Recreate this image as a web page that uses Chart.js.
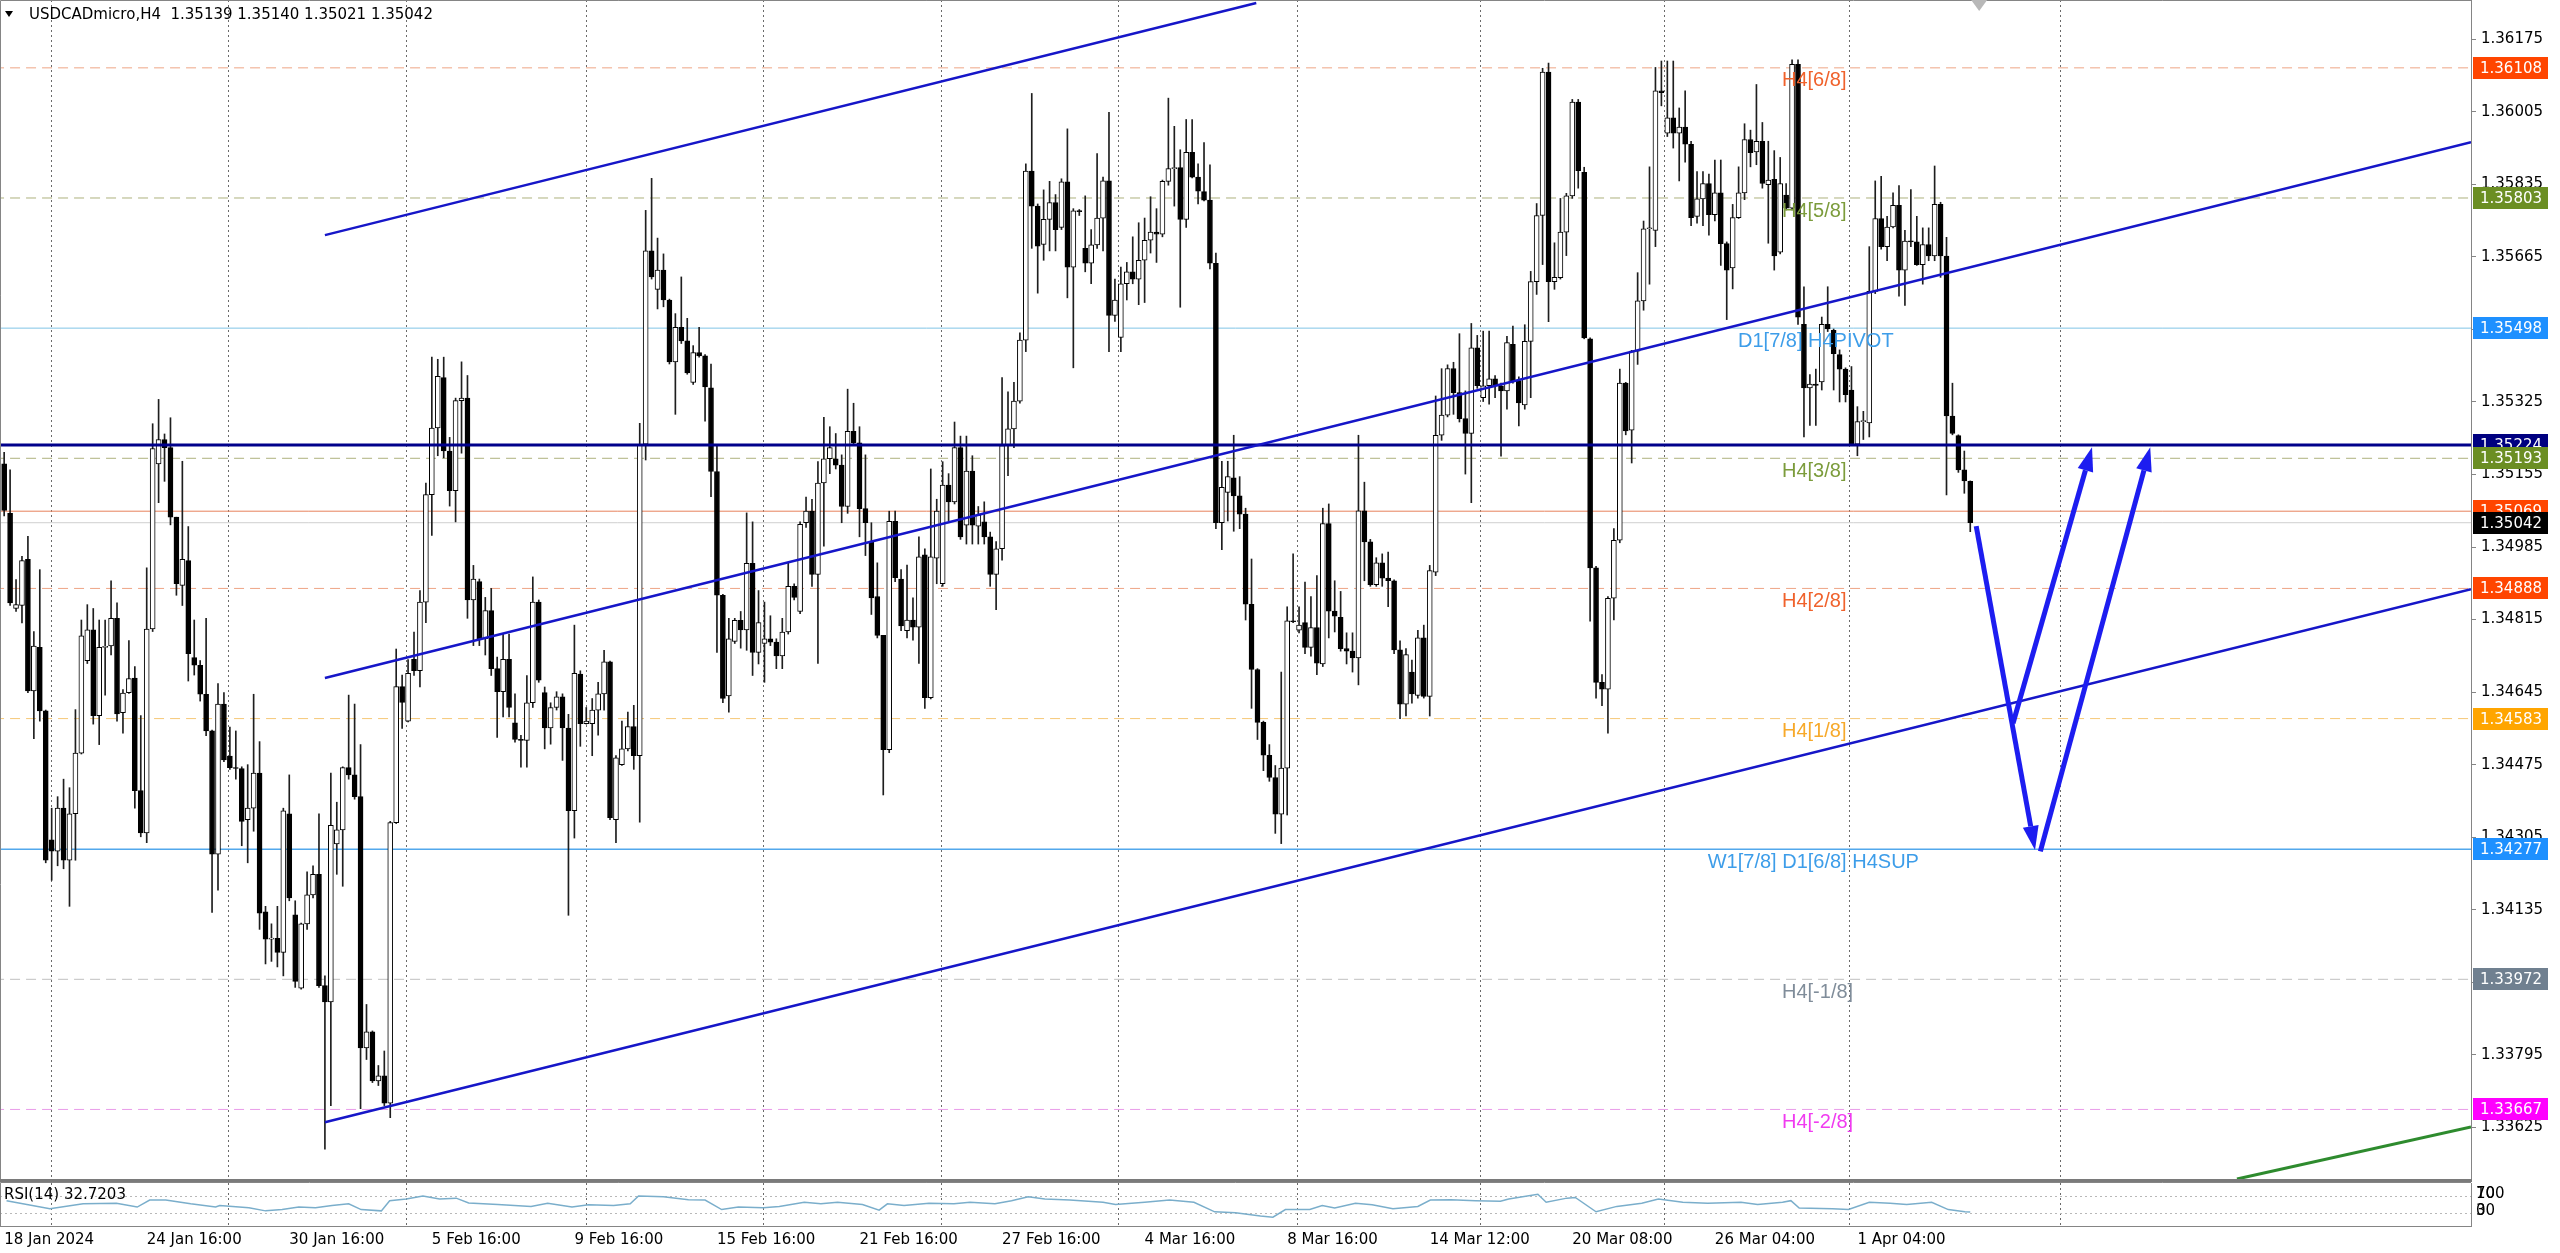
<!DOCTYPE html>
<html>
<head>
<meta charset="utf-8">
<title>USDCADmicro H4</title>
<script src="https://cdn.jsdelivr.net/npm/chart.js@4.4.1/dist/chart.umd.min.js"></script>
<style>
  html, body { margin: 0; padding: 0; background: #ffffff; overflow: hidden; }
  #wrap { position: relative; width: 2560px; height: 1253px; }
  #main { position: absolute; left: 0; top: 0; width: 2560px; height: 1179px; }
  #rsi { position: absolute; left: 0; top: 1179px; width: 2560px; height: 74px; }
</style>
</head>
<body>
<div id="wrap">
  <canvas id="main" width="2560" height="1179"></canvas>
  <canvas id="rsi" width="2560" height="74"></canvas>
</div>
<script>
// H4 candles, oldest first
const opens = [
  1.35180, 1.35064, 1.34841, 1.34848, 1.34956, 1.34648, 1.34750, 1.34601, 1.34299, 1.34272,
  1.34373, 1.34251, 1.34360, 1.34502, 1.34719, 1.34791, 1.34590, 1.34750, 1.34753, 1.34818,
  1.34597, 1.34644, 1.34678, 1.34414, 1.34315, 1.34793, 1.35180, 1.35237, 1.35218, 1.35055,
  1.34895, 1.34953, 1.34726, 1.34708, 1.34640, 1.34554, 1.34265, 1.34617, 1.34495, 1.34468,
  1.34466, 1.34346, 1.34373, 1.34455, 1.34130, 1.34066, 1.34068, 1.34035, 1.34360, 1.34123,
  1.33951, 1.34102, 1.34170, 1.34218, 1.33957, 1.33919, 1.34289, 1.34322, 1.34468, 1.34451,
  1.34400, 1.33811, 1.33849, 1.33734, 1.33746, 1.33682, 1.34339, 1.34658, 1.34577, 1.34722,
  1.34695, 1.34856, 1.35108, 1.35264, 1.35382, 1.35210, 1.35117, 1.35328, 1.35334, 1.34861,
  1.34904, 1.34770, 1.34836, 1.34700, 1.34646, 1.34722, 1.34573, 1.34534, 1.34532, 1.34620,
  1.34856, 1.34644, 1.34561, 1.34609, 1.34634, 1.34561, 1.34367, 1.34687, 1.34571, 1.34571,
  1.34603, 1.34641, 1.34716, 1.34346, 1.34475, 1.34512, 1.34564, 1.34496, 1.35226, 1.35679,
  1.35589, 1.35634, 1.35564, 1.35419, 1.35500, 1.35468, 1.35371, 1.35441, 1.35433, 1.35358,
  1.35162, 1.34872, 1.34636, 1.34764, 1.34813, 1.34791, 1.34947, 1.34738, 1.34759, 1.34770,
  1.34762, 1.34730, 1.34786, 1.34893, 1.34834, 1.35042, 1.35069, 1.34921, 1.35135, 1.35192,
  1.35192, 1.35177, 1.35080, 1.35256, 1.35229, 1.35075, 1.34998, 1.34869, 1.34778, 1.34510,
  1.35045, 1.34910, 1.34789, 1.34814, 1.34797, 1.34967, 1.34632, 1.34959, 1.34899, 1.35130,
  1.35091, 1.35218, 1.35036, 1.35163, 1.35034, 1.35044, 1.35009, 1.34921, 1.34981, 1.35223,
  1.35262, 1.35327, 1.35470, 1.35866, 1.35784, 1.35694, 1.35753, 1.35792, 1.35734, 1.35841,
  1.35641, 1.35773, 1.35685, 1.35650, 1.35693, 1.35756, 1.35843, 1.35528, 1.35476, 1.35602,
  1.35630, 1.35613, 1.35657, 1.35704, 1.35723, 1.35718, 1.35842, 1.35872, 1.35874, 1.35753,
  1.35910, 1.35852, 1.35818, 1.35798, 1.35650, 1.35042, 1.35113, 1.35147, 1.35105, 1.35062,
  1.34851, 1.34698, 1.34574, 1.34497, 1.34445, 1.34359, 1.34467, 1.34812, 1.34790, 1.34808,
  1.34750, 1.34796, 1.34711, 1.35040, 1.34835, 1.34820, 1.34747, 1.34741, 1.34725, 1.35070,
  1.34997, 1.34897, 1.34948, 1.34912, 1.34906, 1.34744, 1.34617, 1.34692, 1.34637, 1.34772,
  1.34635, 1.34926, 1.35247, 1.35294, 1.35403, 1.35347, 1.35286, 1.35251, 1.35452, 1.35335,
  1.35363, 1.35379, 1.35363, 1.35351, 1.35460, 1.35375, 1.35318, 1.35467, 1.35607, 1.35762,
  1.36098, 1.35607, 1.35616, 1.35723, 1.35808, 1.36028, 1.35863, 1.35473, 1.34936, 1.34668,
  1.34652, 1.34865, 1.35001, 1.35369, 1.35259, 1.35444, 1.35562, 1.35731, 1.35727, 1.36054,
  1.35955, 1.35991, 1.35955, 1.35969, 1.35929, 1.35760, 1.35801, 1.35837, 1.35764, 1.35815,
  1.35696, 1.35639, 1.35757, 1.35815, 1.35940, 1.35911, 1.35936, 1.35834, 1.35847, 1.35676,
  1.35810, 1.35779, 1.36116, 1.35507, 1.35358, 1.35367, 1.35372, 1.35507, 1.35493, 1.35436,
  1.35402, 1.35353, 1.35226, 1.35279, 1.35276, 1.35584, 1.35755, 1.35689, 1.35735, 1.35786,
  1.35634, 1.35702, 1.35700, 1.35647, 1.35694, 1.35667, 1.35788, 1.35667, 1.35292, 1.35246,
  1.35166, 1.35139
];
const highs = [
  1.35207, 1.35166, 1.34909, 1.34963, 1.35010, 1.34787, 1.34932, 1.34603, 1.34373, 1.34400,
  1.34441, 1.34421, 1.34604, 1.34814, 1.34850, 1.34841, 1.34814, 1.34814, 1.34906, 1.34854,
  1.34651, 1.34766, 1.34705, 1.34590, 1.34936, 1.35274, 1.35331, 1.35250, 1.35288, 1.35055,
  1.35186, 1.35033, 1.34814, 1.34719, 1.34818, 1.34556, 1.34665, 1.34644, 1.34563, 1.34554,
  1.34470, 1.34475, 1.34640, 1.34529, 1.34143, 1.34102, 1.34143, 1.34373, 1.34451, 1.34156,
  1.34104, 1.34224, 1.34238, 1.34360, 1.33980, 1.34455, 1.34387, 1.34470, 1.34638, 1.34617,
  1.34522, 1.33913, 1.33851, 1.33770, 1.33804, 1.34342, 1.34746, 1.34685, 1.34721, 1.34786,
  1.34883, 1.35135, 1.35430, 1.35425, 1.35430, 1.35242, 1.35334, 1.35419, 1.35387, 1.34942,
  1.34910, 1.34867, 1.34888, 1.34727, 1.34781, 1.34781, 1.34641, 1.34544, 1.34684, 1.34915,
  1.34861, 1.34657, 1.34620, 1.34646, 1.34641, 1.34593, 1.34802, 1.34695, 1.34609, 1.34630,
  1.34668, 1.34743, 1.34718, 1.34496, 1.34577, 1.34598, 1.34614, 1.35275, 1.35774, 1.35849,
  1.35709, 1.35672, 1.35566, 1.35532, 1.35618, 1.35521, 1.35457, 1.35500, 1.35436, 1.35414,
  1.35226, 1.34874, 1.34818, 1.34818, 1.34834, 1.35065, 1.35044, 1.34883, 1.34856, 1.34824,
  1.34770, 1.34818, 1.34947, 1.34899, 1.35044, 1.35102, 1.35097, 1.35185, 1.35289, 1.35267,
  1.35251, 1.35201, 1.35355, 1.35322, 1.35267, 1.35201, 1.35042, 1.34948, 1.34778, 1.35069,
  1.35069, 1.34932, 1.34943, 1.34866, 1.35009, 1.34981, 1.35168, 1.35097, 1.35185, 1.35157,
  1.35278, 1.35245, 1.35245, 1.35199, 1.35080, 1.35091, 1.35020, 1.34998, 1.35382, 1.35349,
  1.35371, 1.35487, 1.35883, 1.36048, 1.35789, 1.35822, 1.35842, 1.35811, 1.35848, 1.35965,
  1.35778, 1.35776, 1.35808, 1.35729, 1.35907, 1.35852, 1.36004, 1.35613, 1.35641, 1.35652,
  1.35712, 1.35745, 1.35756, 1.35806, 1.35778, 1.35845, 1.36037, 1.35971, 1.35916, 1.35987,
  1.35987, 1.35883, 1.35933, 1.35881, 1.35674, 1.35186, 1.35186, 1.35247, 1.35150, 1.35076,
  1.34957, 1.34700, 1.34577, 1.34522, 1.34473, 1.34692, 1.34845, 1.34969, 1.34845, 1.34903,
  1.34869, 1.34918, 1.35076, 1.35086, 1.34906, 1.34881, 1.34784, 1.34784, 1.35247, 1.35137,
  1.35003, 1.34960, 1.34969, 1.34973, 1.34908, 1.34765, 1.34747, 1.34720, 1.34790, 1.34802,
  1.34942, 1.35339, 1.35403, 1.35412, 1.35418, 1.35485, 1.35351, 1.35509, 1.35481, 1.35491,
  1.35491, 1.35387, 1.35369, 1.35479, 1.35503, 1.35384, 1.35506, 1.35631, 1.35790, 1.36107,
  1.36119, 1.35698, 1.35802, 1.35814, 1.36034, 1.36034, 1.35875, 1.35475, 1.34940, 1.34686,
  1.34869, 1.35028, 1.35402, 1.35371, 1.35446, 1.35628, 1.35749, 1.35876, 1.36109, 1.36124,
  1.36124, 1.36124, 1.36014, 1.36054, 1.35936, 1.35865, 1.35865, 1.35859, 1.35892, 1.35892,
  1.35700, 1.35788, 1.35876, 1.35977, 1.35962, 1.36069, 1.35980, 1.35936, 1.35914, 1.35898,
  1.35837, 1.36127, 1.36127, 1.35595, 1.35389, 1.35402, 1.35524, 1.35595, 1.35496, 1.35447,
  1.35405, 1.35408, 1.35314, 1.35303, 1.35689, 1.35843, 1.35854, 1.35760, 1.35815, 1.35832,
  1.35727, 1.35823, 1.35760, 1.35733, 1.35733, 1.35878, 1.35793, 1.35711, 1.35369, 1.35248,
  1.35210, 1.35140
];
const lows = [
  1.35058, 1.34848, 1.34834, 1.34807, 1.34644, 1.34536, 1.34577, 1.34245, 1.34204, 1.34238,
  1.34231, 1.34143, 1.34251, 1.34500, 1.34712, 1.34570, 1.34522, 1.34638, 1.34732, 1.34577,
  1.34549, 1.34642, 1.34373, 1.34306, 1.34292, 1.34787, 1.35089, 1.35139, 1.35037, 1.34872,
  1.34848, 1.34671, 1.34685, 1.34624, 1.34543, 1.34129, 1.34181, 1.34482, 1.34464, 1.34441,
  1.34285, 1.34245, 1.34319, 1.34089, 1.34008, 1.34014, 1.34001, 1.33980, 1.34156, 1.33953,
  1.33949, 1.34089, 1.34163, 1.33953, 1.33574, 1.33676, 1.34218, 1.34190, 1.34441, 1.34394,
  1.33669, 1.33784, 1.33730, 1.33723, 1.33676, 1.33648, 1.34337, 1.34560, 1.34575, 1.34684,
  1.34657, 1.34808, 1.35012, 1.35199, 1.35194, 1.35081, 1.35044, 1.35205, 1.34818, 1.34754,
  1.34754, 1.34732, 1.34684, 1.34539, 1.34587, 1.34587, 1.34528, 1.34469, 1.34469, 1.34609,
  1.34668, 1.34512, 1.34523, 1.34603, 1.34485, 1.34122, 1.34303, 1.34518, 1.34570, 1.34496,
  1.34544, 1.34603, 1.34346, 1.34292, 1.34473, 1.34507, 1.34464, 1.34340, 1.35189, 1.35613,
  1.35543, 1.35548, 1.35414, 1.35296, 1.35462, 1.35390, 1.35366, 1.35430, 1.35280, 1.35103,
  1.34738, 1.34620, 1.34598, 1.34759, 1.34748, 1.34743, 1.34684, 1.34711, 1.34668, 1.34754,
  1.34700, 1.34700, 1.34781, 1.34861, 1.34829, 1.35031, 1.34893, 1.34712, 1.34987, 1.35157,
  1.35168, 1.35042, 1.35064, 1.35223, 1.35009, 1.34965, 1.34827, 1.34772, 1.34404, 1.34503,
  1.34904, 1.34789, 1.34772, 1.34767, 1.34712, 1.34607, 1.34629, 1.34899, 1.34893, 1.35047,
  1.35086, 1.35003, 1.34992, 1.34992, 1.34992, 1.34992, 1.34893, 1.34838, 1.34954, 1.35152,
  1.35218, 1.35322, 1.35443, 1.35685, 1.35580, 1.35657, 1.35679, 1.35679, 1.35729, 1.35569,
  1.35405, 1.35762, 1.35630, 1.35602, 1.35685, 1.35679, 1.35443, 1.35514, 1.35443, 1.35564,
  1.35602, 1.35553, 1.35558, 1.35674, 1.35652, 1.35712, 1.35833, 1.35784, 1.35547, 1.35734,
  1.35850, 1.35789, 1.35796, 1.35637, 1.35028, 1.34979, 1.35046, 1.35022, 1.35028, 1.34814,
  1.34607, 1.34534, 1.34461, 1.34436, 1.34314, 1.34290, 1.34357, 1.34808, 1.34784, 1.34735,
  1.34729, 1.34686, 1.34705, 1.34772, 1.34786, 1.34741, 1.34711, 1.34692, 1.34662, 1.34906,
  1.34893, 1.34893, 1.34893, 1.34845, 1.34735, 1.34583, 1.34589, 1.34619, 1.34631, 1.34631,
  1.34589, 1.34918, 1.35235, 1.35290, 1.35296, 1.35278, 1.35156, 1.35089, 1.35357, 1.35326,
  1.35320, 1.35335, 1.35198, 1.35308, 1.35369, 1.35269, 1.35308, 1.35335, 1.35577, 1.35647,
  1.35513, 1.35589, 1.35613, 1.35668, 1.35802, 1.35826, 1.35473, 1.34811, 1.34631, 1.34613,
  1.34549, 1.34814, 1.34995, 1.35248, 1.35182, 1.35413, 1.35540, 1.35601, 1.35689, 1.36019,
  1.35947, 1.35920, 1.35843, 1.35887, 1.35738, 1.35744, 1.35738, 1.35716, 1.35749, 1.35645,
  1.35518, 1.35590, 1.35755, 1.35799, 1.35876, 1.35881, 1.35826, 1.35697, 1.35634, 1.35672,
  1.35775, 1.35775, 1.35507, 1.35243, 1.35270, 1.35270, 1.35353, 1.35490, 1.35353, 1.35325,
  1.35325, 1.35224, 1.35199, 1.35237, 1.35243, 1.35579, 1.35683, 1.35656, 1.35733, 1.35573,
  1.35551, 1.35689, 1.35645, 1.35601, 1.35656, 1.35656, 1.35617, 1.35107, 1.35248, 1.35160,
  1.35111, 1.35021
];
const closes = [
  1.35071, 1.34854, 1.34850, 1.34953, 1.34648, 1.34753, 1.34601, 1.34251, 1.34272, 1.34373,
  1.34251, 1.34360, 1.34502, 1.34777, 1.34791, 1.34590, 1.34750, 1.34752, 1.34818, 1.34594,
  1.34643, 1.34677, 1.34414, 1.34315, 1.34793, 1.35216, 1.35237, 1.35218, 1.35055, 1.34899,
  1.34956, 1.34735, 1.34708, 1.34640, 1.34554, 1.34265, 1.34617, 1.34486, 1.34468, 1.34466,
  1.34342, 1.34373, 1.34455, 1.34127, 1.34066, 1.34068, 1.34035, 1.34367, 1.34163, 1.33967,
  1.34102, 1.34170, 1.34218, 1.33957, 1.33919, 1.34333, 1.34322, 1.34468, 1.34451, 1.34400,
  1.33811, 1.33849, 1.33734, 1.33746, 1.33682, 1.34339, 1.34658, 1.34621, 1.34689, 1.34695,
  1.34856, 1.35108, 1.35264, 1.35385, 1.35210, 1.35117, 1.35328, 1.35334, 1.34861, 1.34910,
  1.34770, 1.34836, 1.34700, 1.34646, 1.34722, 1.34609, 1.34534, 1.34532, 1.34620, 1.34856,
  1.34673, 1.34561, 1.34609, 1.34634, 1.34561, 1.34367, 1.34689, 1.34571, 1.34577, 1.34603,
  1.34641, 1.34716, 1.34351, 1.34491, 1.34512, 1.34564, 1.34496, 1.35226, 1.35679, 1.35618,
  1.35634, 1.35564, 1.35419, 1.35500, 1.35468, 1.35393, 1.35441, 1.35433, 1.35360, 1.35162,
  1.34872, 1.34630, 1.34770, 1.34813, 1.34791, 1.34947, 1.34738, 1.34808, 1.34770, 1.34762,
  1.34730, 1.34786, 1.34893, 1.34867, 1.35038, 1.35069, 1.34921, 1.35135, 1.35192, 1.35218,
  1.35177, 1.35080, 1.35256, 1.35229, 1.35075, 1.35042, 1.34866, 1.34778, 1.34510, 1.35045,
  1.34913, 1.34800, 1.34814, 1.34797, 1.34962, 1.34632, 1.34962, 1.35069, 1.35130, 1.35091,
  1.35218, 1.35009, 1.35163, 1.35036, 1.35060, 1.35009, 1.34921, 1.34981, 1.35223, 1.35262,
  1.35327, 1.35470, 1.35866, 1.35784, 1.35690, 1.35753, 1.35792, 1.35729, 1.35841, 1.35641,
  1.35773, 1.35771, 1.35650, 1.35693, 1.35756, 1.35843, 1.35528, 1.35564, 1.35602, 1.35630,
  1.35613, 1.35657, 1.35704, 1.35723, 1.35718, 1.35842, 1.35872, 1.35874, 1.35753, 1.35910,
  1.35852, 1.35819, 1.35798, 1.35650, 1.35042, 1.35125, 1.35150, 1.35105, 1.35062, 1.34851,
  1.34698, 1.34574, 1.34497, 1.34445, 1.34359, 1.34467, 1.34812, 1.34810, 1.34802, 1.34750,
  1.34796, 1.34713, 1.35040, 1.34835, 1.34823, 1.34747, 1.34741, 1.34725, 1.35070, 1.34997,
  1.34897, 1.34948, 1.34912, 1.34906, 1.34744, 1.34617, 1.34733, 1.34641, 1.34772, 1.34635,
  1.34930, 1.35247, 1.35294, 1.35403, 1.35347, 1.35286, 1.35251, 1.35452, 1.35363, 1.35363,
  1.35379, 1.35363, 1.35351, 1.35464, 1.35375, 1.35323, 1.35467, 1.35607, 1.35762, 1.36098,
  1.35607, 1.35617, 1.35723, 1.35808, 1.36028, 1.35867, 1.35475, 1.34936, 1.34668, 1.34652,
  1.34865, 1.35001, 1.35369, 1.35257, 1.35444, 1.35562, 1.35731, 1.35733, 1.36054, 1.36050,
  1.35991, 1.35955, 1.35969, 1.35929, 1.35757, 1.35801, 1.35837, 1.35764, 1.35815, 1.35696,
  1.35634, 1.35757, 1.35815, 1.35940, 1.35909, 1.35936, 1.35837, 1.35845, 1.35667, 1.35837,
  1.35779, 1.36116, 1.35524, 1.35358, 1.35367, 1.35364, 1.35507, 1.35496, 1.35438, 1.35402,
  1.35342, 1.35226, 1.35279, 1.35281, 1.35584, 1.35755, 1.35689, 1.35735, 1.35786, 1.35634,
  1.35702, 1.35700, 1.35647, 1.35694, 1.35667, 1.35788, 1.35667, 1.35292, 1.35251, 1.35166,
  1.35140, 1.35042
];

// horizontal levels (price + caption)
const levelPrices = [1.36108, 1.35803, 1.35498, 1.35224, 1.35193, 1.35069, 1.35042, 1.34888, 1.34583, 1.34277, 1.33972, 1.33667];
const levelNames = ['H4[6/8]', 'H4[5/8]', 'D1[7/8] H4PIVOT', '', 'H4[3/8]', '', '', 'H4[2/8]', 'H4[1/8]', 'W1[7/8] D1[6/8] H4SUP', 'H4[-1/8]', 'H4[-2/8]'];

// price axis ticks
const yTickValues = [1.36175, 1.36005, 1.35835, 1.35665, 1.35495, 1.35325, 1.35155, 1.34985,
  1.34815, 1.34645, 1.34475, 1.34305, 1.34135, 1.33965, 1.33795, 1.33625];

// time axis: labels sit on bar indices
const xTickIdx = [0, 24, 48, 72, 96, 120, 144, 168, 192, 216, 240, 264, 288, 312];
const xTickLabels = ['18 Jan 2024', '24 Jan 16:00', '30 Jan 16:00', '5 Feb 16:00', '9 Feb 16:00',
  '15 Feb 16:00', '21 Feb 16:00', '27 Feb 16:00', '4 Mar 16:00', '8 Mar 16:00', '14 Mar 12:00',
  '20 Mar 08:00', '26 Mar 04:00', '1 Apr 04:00'];
const gridIdx = [7.9, 37.7, 67.7, 97.9, 127.8, 157.7, 187.5, 217.7, 248.5, 279.5, 310.6, 346.1];

// drawn objects: [bar index, price]
const trendStart = [[54.0, 1.35716], [54.0, 1.34678], [54.0, 1.33637], [375.9, 1.33504]];
const trendEnd = [[210.8, 1.36260], [415.3, 1.35934], [415.3, 1.34886], [415.3, 1.33626]];
const arrowStart = [[332.0, 1.35034], [338.2, 1.34572], [342.8, 1.34272]];
const arrowEnd = [[341.9, 1.34275], [351.5, 1.35219], [361.3, 1.35219]];

// RSI(14) readings: bar index / value
const rsiIdx = [0.4, 7.7, 13.3, 18.9, 22.4, 24.5, 27.2, 31.4, 35.6, 36.3, 41.2, 44.0, 46.8, 49.6, 52.4,
  55.2, 58.0, 60.1, 63.5, 64.9, 67.7, 70.5, 73.3, 76.1, 78.2, 83.1, 88.7, 91.5, 95.6, 98.4, 102.6,
  105.4, 106.8, 111.0, 115.2, 118.0, 120.8, 123.6, 127.8, 130.5, 134.7, 137.5, 140.3, 144.5, 147.3,
  148.7, 151.5, 155.7, 159.9, 162.6, 166.8, 169.6, 172.4, 175.2, 179.4, 185.0, 187.1, 192.0, 196.2,
  200.3, 203.8, 207.3, 211.5, 213.6, 215.7, 219.8, 221.9, 224.0, 227.5, 230.3, 233.8, 238.0, 240.1,
  243.6, 247.7, 251.9, 253.3, 258.2, 259.6, 263.1, 264.5, 268.0, 271.5, 275.7, 278.5, 282.6, 286.8,
  292.4, 295.2, 299.4, 300.8, 302.2, 307.8, 310.5, 314.0, 317.5, 320.3, 324.5, 327.3, 330.1, 331];
const rsiVal = [58.9, 40.4, 51.5, 53.0, 44.1, 60.4, 60.4, 51.5, 44.1, 47.8, 42.6, 35.2, 38.2, 44.1, 42.6,
  47.8, 51.5, 38.2, 35.2, 58.9, 62.6, 70.0, 62.6, 64.8, 53.7, 50.0, 45.6, 53.0, 44.1, 49.3, 47.8,
  51.5, 70.0, 67.8, 61.1, 60.4, 38.2, 44.1, 42.6, 45.6, 55.2, 51.5, 55.2, 50.0, 36.7,
  51.5, 47.8, 53.0, 51.5, 55.2, 51.5, 58.9, 67.8, 62.6, 60.4, 55.2, 50.0, 55.2, 60.4,
  55.2, 33.0, 30.8, 23.4, 20.4, 38.2, 38.2, 47.8, 41.9, 53.0, 49.3, 40.4, 45.6, 60.4,
  61.1, 58.9, 57.4, 62.6, 73.7, 55.2, 64.8, 66.3, 33.0, 45.6, 53.0, 62.6, 55.2, 53.0,
  55.2, 50.0, 55.2, 58.9, 41.9, 40.4, 38.2, 55.2, 53.0, 50.0, 55.2, 38.2, 33.0, 32.7];
const rsiLevels = [30, 70];
const rsiAxisText = ['100', '70', '30', '0'];
const rsiTitle = 'RSI(14) 32.7203';
const symbolTitle = 'USDCADmicro,H4';

// ---- layout / style ----
const xMin = -0.7, xMax = 415.3;
const yMin = 1.33504, yMax = 1.36267;
const FONT = '"DejaVu Sans", Verdana, sans-serif';
const LABEL_FONT = '"Liberation Sans", Arial, sans-serif';
const ARROW_COLOR = '#1d1df0';
const AXIS_GREY = '#858585';

const levelStyle = [
  { line: '#eea585', dash: [10, 6], w: 1, text: '#f0622c', tag: '#ff4500', labelAt: 299.3 },
  { line: '#aeb27e', dash: [10, 6], w: 1, text: '#7c9c3c', tag: '#6b8e23', labelAt: 299.3 },
  { line: '#80c4e6', dash: [], w: 1, text: '#3d9de9', tag: '#1e90ff', labelAt: 291.9 },
  { line: '#00008b', dash: [], w: 3, tag: '#000080', top: true },
  { line: '#aeb27e', dash: [10, 6], w: 1, text: '#7c9c3c', tag: '#6b8e23', labelAt: 299.3 },
  { line: '#e7825c', dash: [], w: 1, tag: '#ff4500' },
  { line: '#cfcfcf', dash: [], w: 1, tag: '#000000' },
  { line: '#eea585', dash: [10, 6], w: 1, text: '#f0622c', tag: '#ff4500', labelAt: 299.3 },
  { line: '#f6c878', dash: [10, 6], w: 1, text: '#f7a92a', tag: '#ffa500', labelAt: 299.3 },
  { line: '#52a8ec', dash: [], w: 1.5, text: '#3d9de9', tag: '#1e90ff', labelAt: 286.8 },
  { line: '#c0c0c0', dash: [10, 6], w: 1, text: '#808d9a', tag: '#708090', labelAt: 299.3 },
  { line: '#e99ce9', dash: [10, 6], w: 1, text: '#f03cf0', tag: '#ff00ff', labelAt: 299.3 }
];
const trendStyle = [
  { color: '#1616c8', w: 2.5 }, { color: '#1616c8', w: 2.5 }, { color: '#1616c8', w: 2.5 },
  { color: '#2e8b2e', w: 3 }
];
const shiftMarkIdx = 332.5;

// ---- datasets ----
const bodies = opens.map((o, i) => ({ x: i, y: [o, closes[i]] }));
const wicks = lows.map((l, i) => ({ x: i, y: [l, highs[i]] }));
const bull = i => closes[i] >= opens[i];

const levelSets = levelPrices.map((p, i) => ({
  type: 'line',
  data: [{ x: xMin - 1, y: p }, { x: xMax + 1, y: p }],
  borderColor: levelStyle[i].line,
  borderWidth: levelStyle[i].w,
  borderDash: levelStyle[i].dash,
  pointRadius: 0,
  order: levelStyle[i].top ? 2 : 10
}));

const trendSets = trendStart.map((s, i) => ({
  type: 'line',
  data: [{ x: s[0], y: s[1] }, { x: trendEnd[i][0], y: trendEnd[i][1] }],
  borderColor: trendStyle[i].color,
  borderWidth: trendStyle[i].w,
  pointRadius: 0,
  order: 1
}));

function drawGridVerticals(chart) {
  const { ctx, chartArea: a, scales } = chart;
  ctx.save();
  ctx.strokeStyle = '#6a6a6a';
  ctx.lineWidth = 1;
  ctx.setLineDash([2, 3]);
  gridIdx.forEach(g => {
    const px = Math.round(scales.x.getPixelForValue(g)) + 0.5;
    ctx.beginPath();
    ctx.moveTo(px, a.top);
    ctx.lineTo(px, a.bottom);
    ctx.stroke();
  });
  ctx.restore();
}

const mainDecor = {
  id: 'mainDecor',
  beforeDatasetsDraw(chart) { drawGridVerticals(chart); },
  afterDatasetsDraw(chart) {
    const { ctx, scales: { x, y } } = chart;
    ctx.save();
    // forecast arrows
    ctx.strokeStyle = ARROW_COLOR;
    ctx.fillStyle = ARROW_COLOR;
    ctx.lineWidth = 5;
    arrowStart.forEach((s, i) => {
      const e = arrowEnd[i];
      const x0 = x.getPixelForValue(s[0]), y0 = y.getPixelForValue(s[1]);
      const x1 = x.getPixelForValue(e[0]), y1 = y.getPixelForValue(e[1]);
      const ang = Math.atan2(y1 - y0, x1 - x0);
      const head = 24, half = 8;
      const bx = x1 - head * Math.cos(ang), by = y1 - head * Math.sin(ang);
      ctx.beginPath();
      ctx.moveTo(x0, y0);
      ctx.lineTo(bx, by);
      ctx.stroke();
      ctx.beginPath();
      ctx.moveTo(x1, y1);
      ctx.lineTo(bx + half * Math.sin(ang), by - half * Math.cos(ang));
      ctx.lineTo(bx - half * Math.sin(ang), by + half * Math.cos(ang));
      ctx.closePath();
      ctx.fill();
    });
    // level captions
    ctx.font = '20px ' + LABEL_FONT;
    ctx.textBaseline = 'middle';
    ctx.textAlign = 'left';
    levelPrices.forEach((p, i) => {
      if (!levelNames[i]) return;
      ctx.fillStyle = levelStyle[i].text;
      ctx.fillText(levelNames[i], x.getPixelForValue(levelStyle[i].labelAt), y.getPixelForValue(p) + 13);
    });
    ctx.restore();
  },
  afterDraw(chart) {
    const { ctx, chartArea: a, scales: { x, y } } = chart;
    ctx.save();
    ctx.strokeStyle = AXIS_GREY;
    ctx.lineWidth = 1;
    ctx.beginPath();
    ctx.moveTo(0.5, a.bottom);
    ctx.lineTo(0.5, 0.5);
    ctx.lineTo(a.right, 0.5);
    ctx.stroke();

    // price tags on the axis
    ctx.font = '15px ' + FONT;
    ctx.textBaseline = 'middle';
    ctx.textAlign = 'left';
    levelPrices.forEach((p, i) => {
      const py = Math.round(y.getPixelForValue(p));
      ctx.fillStyle = levelStyle[i].tag;
      ctx.fillRect(a.right + 2, py - 11, 75, 22);
      ctx.fillStyle = '#ffffff';
      ctx.fillText(p.toFixed(5), a.right + 9, py + 1);
    });

    // header
    const n = opens.length - 1;
    const ohlc = [opens[n], highs[n], lows[n], closes[n]].map(v => v.toFixed(5)).join(' ');
    ctx.fillStyle = '#000000';
    ctx.font = '15px ' + FONT;
    ctx.fillText(symbolTitle + '  ' + ohlc, 29, 15);
    ctx.beginPath();
    ctx.moveTo(5, 11); ctx.lineTo(13, 11); ctx.lineTo(9, 17);
    ctx.closePath();
    ctx.fill();

    // chart shift marker
    const sx = x.getPixelForValue(shiftMarkIdx);
    ctx.fillStyle = '#b8b8b8';
    ctx.beginPath();
    ctx.moveTo(sx - 8, 0); ctx.lineTo(sx + 8, 0); ctx.lineTo(sx, 11);
    ctx.closePath();
    ctx.fill();
    ctx.restore();
  }
};

new Chart(document.getElementById('main'), {
  type: 'bar',
  data: {
    datasets: [
      {
        type: 'bar',
        data: bodies,
        backgroundColor: c => bull(c.dataIndex) ? '#ffffff' : '#000000',
        borderColor: '#000000',
        borderWidth: 1,
        borderSkipped: false,
        barThickness: 5,
        minBarLength: 1,
        grouped: false,
        order: 4
      },
      {
        type: 'bar',
        data: wicks,
        backgroundColor: '#1e1e1e',
        borderWidth: 0,
        barThickness: 1,
        grouped: false,
        order: 5
      },
      ...levelSets,
      ...trendSets
    ]
  },
  options: {
    responsive: false,
    animation: false,
    events: [],
    layout: { padding: 0 },
    plugins: { legend: { display: false }, tooltip: { enabled: false }, title: { display: false } },
    scales: {
      x: { type: 'linear', min: xMin, max: xMax, display: false, offset: false },
      y: {
        type: 'linear',
        position: 'right',
        min: yMin,
        max: yMax,
        afterBuildTicks: s => { s.ticks = yTickValues.map(v => ({ value: v })); },
        afterFit: s => { s.width = 89; s.paddingTop = 0; s.paddingBottom = 0; },
        ticks: {
          callback: v => Number(v).toFixed(5),
          color: '#000000',
          font: { family: FONT, size: 15 },
          padding: 5,
          autoSkip: false
        },
        grid: { drawOnChartArea: false, drawTicks: true, tickLength: 5, color: AXIS_GREY },
        border: { color: AXIS_GREY }
      }
    }
  },
  plugins: [mainDecor]
});

const rsiDecor = {
  id: 'rsiDecor',
  beforeDatasetsDraw(chart) {
    drawGridVerticals(chart);
    const { ctx, chartArea: a, scales: { y } } = chart;
    ctx.save();
    ctx.strokeStyle = '#b8b8b8';
    ctx.setLineDash([2, 3]);
    rsiLevels.forEach(v => {
      const py = Math.round(y.getPixelForValue(v)) + 0.5;
      ctx.beginPath();
      ctx.moveTo(a.left, py);
      ctx.lineTo(a.right, py);
      ctx.stroke();
    });
    ctx.restore();
  },
  afterDraw(chart) {
    const { ctx, chartArea: a, scales: { y } } = chart;
    ctx.save();
    ctx.fillStyle = '#7a7a7a';
    ctx.fillRect(0, 0, a.right + 1, 3);
    ctx.strokeStyle = AXIS_GREY;
    ctx.beginPath();
    ctx.moveTo(0.5, a.bottom);
    ctx.lineTo(0.5, a.top - 0.5);
    ctx.lineTo(a.right, a.top - 0.5);
    ctx.stroke();
    ctx.fillStyle = '#000000';
    ctx.textBaseline = 'middle';
    ctx.textAlign = 'left';
    ctx.font = '15px ' + FONT;
    ctx.fillText(rsiTitle, 4, y.getPixelForValue(70) - 1);
    // MT4 squeezes 100/70 and 30/0 onto the same rows in a short pane
    ctx.font = '15px ' + FONT;
    rsiAxisText.forEach((t, i) => {
      const v = i < 2 ? rsiLevels[1] : rsiLevels[0];
      ctx.fillText(t, a.right + 5, y.getPixelForValue(v) - 2);
    });
    ctx.restore();
  }
};

new Chart(document.getElementById('rsi'), {
  type: 'line',
  data: {
    datasets: [{
      data: rsiIdx.map((v, i) => ({ x: v, y: rsiVal[i] })),
      borderColor: '#7aaecb',
      borderWidth: 1.5,
      pointRadius: 0,
      tension: 0
    }]
  },
  options: {
    responsive: false,
    animation: false,
    events: [],
    layout: { padding: { top: 4, left: 0, right: 0, bottom: 0 } },
    plugins: { legend: { display: false }, tooltip: { enabled: false } },
    scales: {
      x: {
        type: 'linear',
        min: xMin,
        max: xMax,
        offset: false,
        afterBuildTicks: s => { s.ticks = xTickIdx.map(v => ({ value: v })); },
        afterFit: s => { s.height = 27; s.paddingLeft = 0; s.paddingRight = 0; },
        ticks: {
          callback: (v, i) => xTickLabels[i],
          align: 'start',
          autoSkip: false,
          maxRotation: 0,
          minRotation: 0,
          padding: 5,
          color: '#000000',
          font: { family: FONT, size: 15 }
        },
        grid: { display: false, drawTicks: false },
        border: { display: true, color: AXIS_GREY }
      },
      y: {
        position: 'right',
        min: 0,
        max: 100,
        afterFit: s => { s.width = 89; s.paddingTop = 0; s.paddingBottom = 0; },
        ticks: { display: false },
        grid: { display: false, drawTicks: false },
        border: { color: AXIS_GREY }
      }
    }
  },
  plugins: [rsiDecor]
});
</script>
</body>
</html>
